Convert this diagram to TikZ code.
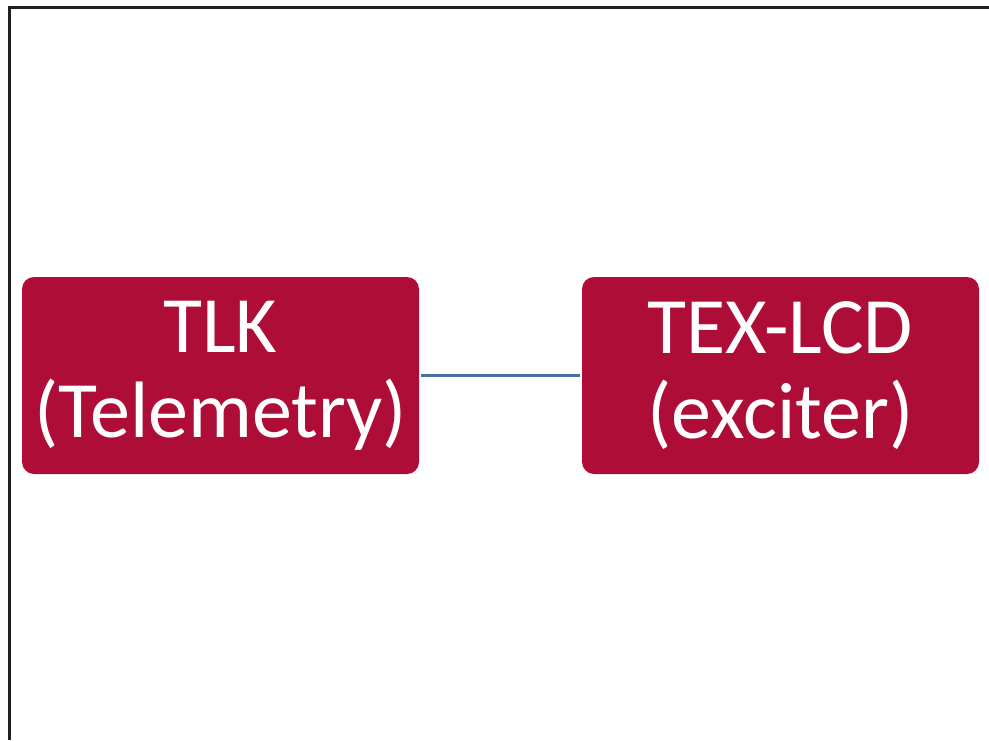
\documentclass[tikz,border=0pt]{standalone}
\usepackage{fontspec}
\setmainfont{Carlito}
\definecolor{boxred}{RGB}{173,13,54}
\definecolor{linkblue}{RGB}{74,111,160}
\definecolor{framegray}{RGB}{35,31,32}
\begin{document}
\begin{tikzpicture}[x=1pt,y=-1pt,
  unitbox/.style={fill=boxred, rounded corners=12pt, minimum width=397pt, minimum height=197pt,
    inner sep=0pt, text=white, align=center,
    font=\fontsize{80}{85}\selectfont},
  link/.style={draw=linkblue, line width=2.2pt}]
\useasboundingbox (0,0) rectangle (989,740);
\fill[white] (0,0) rectangle (989,740);
\draw[framegray, line width=3pt] (9.5,740) -- (9.5,7) -- (989,7);
\node[unitbox] (tlk) at (220.5,375.5) {TLK\\(Telemetry)};
\node[unitbox] (tex) at (780.5,375.5) {TEX-LCD\\(exciter)};
\path (tlk.east) ++(2,0) coordinate (a);
\path (tex.west) ++(-2,0) coordinate (b);
\draw[link] (a) -- (b);
\end{tikzpicture}
\end{document}
